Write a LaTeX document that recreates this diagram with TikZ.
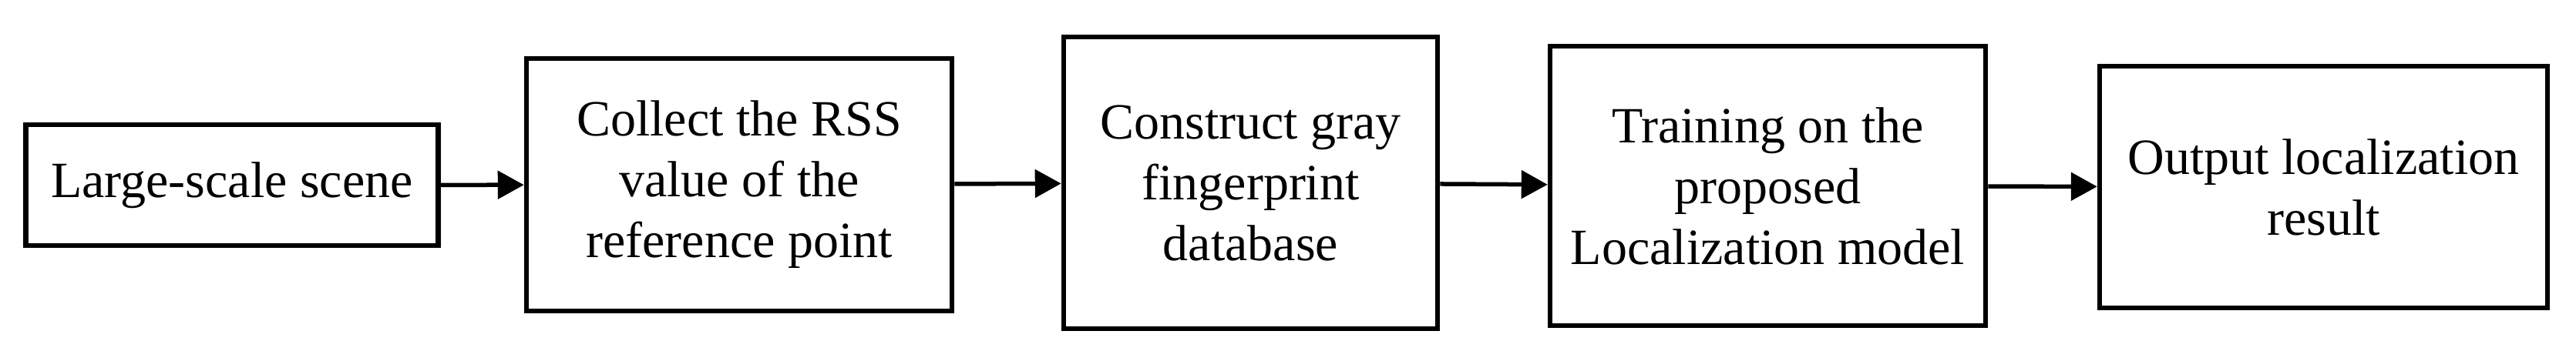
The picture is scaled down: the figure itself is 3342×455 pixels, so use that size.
\documentclass[tikz,border=0pt]{standalone}
\usepackage{fontspec}
\setmainfont{Liberation Serif}
\usetikzlibrary{arrows.meta}
\tikzset{
  stepbox/.style={draw=black, line width=6.5pt, rectangle, inner sep=0pt,
    align=center, font=\fontsize{66}{79}\selectfont, fill=white},
  flow/.style={line width=5.5pt, -{Triangle[length=34pt,width=36pt]}},
}
\begin{document}
\begin{tikzpicture}[x=1pt,y=-1pt]
\useasboundingbox (0,0) rectangle (3342,455);
\node[stepbox, minimum width=535pt, minimum height=157pt] (b1) at (301,240.5) {Large-scale scene};
\node[stepbox, minimum width=552pt, minimum height=328pt] (b2) at (959,240) {Collect the RSS\\value of the\\reference point};
\node[stepbox, minimum width=485pt, minimum height=379pt] (b3) at (1622.5,237.5) {Construct gray\\fingerprint\\database};
\node[stepbox, minimum width=565pt, minimum height=363pt] (b4) at (2293.5,241.5) {Training on the\\proposed\\Localization model};
\node[stepbox, minimum width=581pt, minimum height=314pt] (b5) at (3014.5,243) {Output localization\\result};
\draw[flow] (b1) -- (b2);
\draw[flow] (b2) -- (b3);
\draw[flow] (b3) -- (b4);
\draw[flow] (b4) -- (b5);
\end{tikzpicture}
\end{document}
